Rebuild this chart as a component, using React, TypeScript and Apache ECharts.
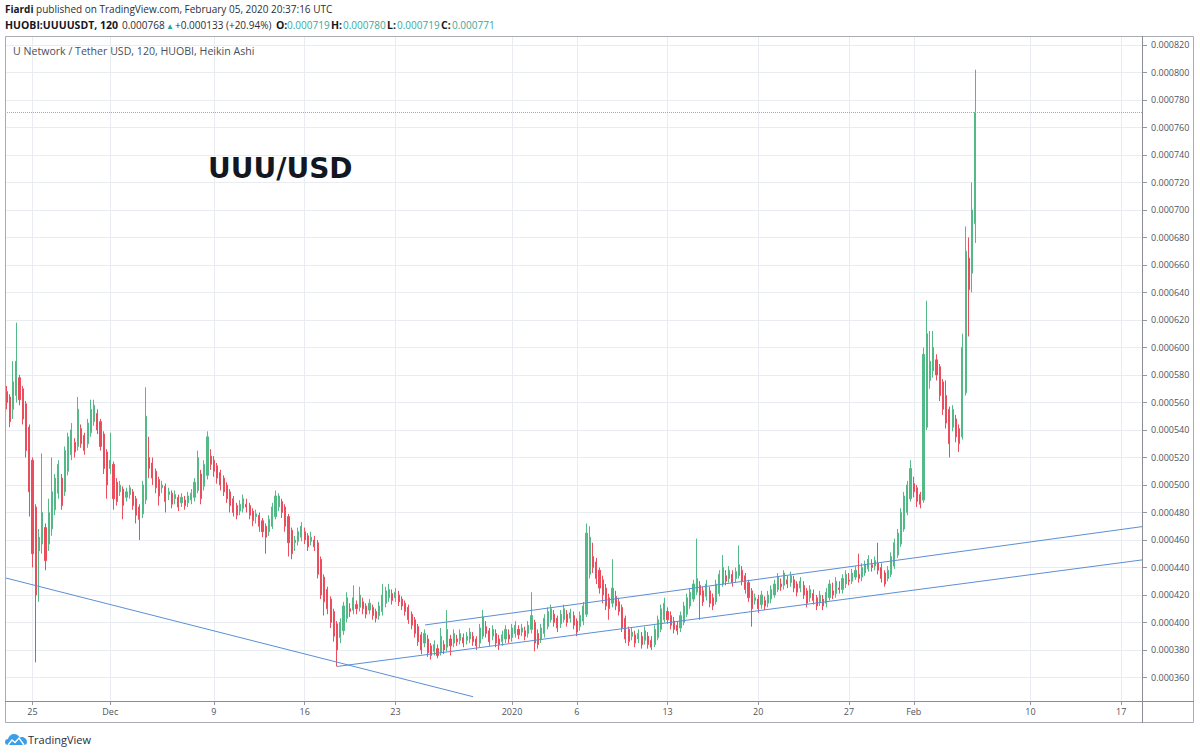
import React, { useEffect, useRef } from 'react';
import * as echarts from 'echarts';

// Prices are in millionths of USDT (1e-6). Candles are 6-hour Heikin Ashi bars.
// x coordinate: days since 25 Nov 2019 00:00 UTC. First candle: 23 Nov 00:00.
const firstCandleDay = -2;
const candleStepDays = 0.25;

// [open, close, low, high]
const novCandles = [
  [568, 560, 555, 572], [564, 546, 542, 566], [555, 575, 548, 590], [565, 590, 560, 618], [578, 562, 558, 580], [570, 548, 544, 572], [559, 525, 520, 561], [542, 495, 477, 544], [518, 450, 440, 520], [484, 420, 371, 486],
  [452, 462, 415, 468], [457, 480, 450, 523], [469, 445, 438, 472], [457, 480, 452, 490], [468, 495, 463, 520], [482, 505, 478, 508], [494, 515, 490, 518], [505, 485, 482, 508], [495, 525, 492, 528], [510, 535, 507, 538],
  [522, 540, 518, 545], [531, 524, 520, 534], [528, 555, 525, 564], [541, 530, 527, 544], [536, 525, 522, 538], [530, 545, 527, 548], [538, 555, 535, 562], [546, 558, 543, 562], [552, 540, 537, 555], [546, 528, 525, 548],
  [537, 512, 508, 539], [524, 500, 490, 526],
];

const decCandles = [
  [512, 518, 508, 538], [515, 490, 482, 517], [502, 488, 485, 505], [495, 500, 492, 503], [497, 485, 475, 499], [491, 495, 488, 498], [493, 498, 490, 500], [495, 485, 482, 497], [490, 478, 472, 492], [484, 475, 460, 486],
  [479, 500, 476, 503], [489, 550, 486, 571], [520, 512, 505, 535], [516, 505, 500, 520], [510, 498, 494, 512], [504, 492, 485, 506], [498, 500, 494, 503], [499, 488, 480, 501], [493, 495, 489, 498], [494, 486, 483, 496],
  [490, 493, 486, 496], [491, 484, 481, 493], [487, 491, 484, 494], [489, 485, 482, 492], [487, 492, 484, 495], [489, 494, 486, 497], [491, 502, 488, 505], [496, 520, 494, 525], [508, 490, 486, 511], [499, 515, 496, 518],
  [507, 535, 504, 539], [521, 515, 511, 526], [518, 510, 506, 521], [514, 505, 501, 516], [509, 500, 496, 511], [505, 495, 492, 507], [500, 490, 487, 502], [495, 485, 480, 497], [490, 480, 477, 492], [485, 478, 475, 487],
  [481, 486, 478, 489], [483, 490, 480, 493], [486, 484, 480, 490], [485, 478, 475, 487], [481, 474, 470, 483], [477, 479, 472, 482], [478, 470, 466, 480], [474, 466, 462, 476], [470, 462, 450, 472], [466, 475, 463, 478],
  [470, 484, 468, 487], [477, 492, 475, 496], [484, 492, 481, 494], [488, 480, 476, 490], [484, 470, 466, 486], [477, 458, 448, 479], [467, 450, 446, 469], [458, 460, 452, 463], [459, 466, 456, 469], [462, 470, 459, 473],
  [466, 460, 457, 469], [463, 455, 452, 465], [459, 462, 456, 466], [460, 455, 452, 463], [458, 435, 432, 460], [446, 420, 417, 448], [433, 415, 405, 435], [424, 410, 406, 426], [417, 400, 396, 419], [408, 390, 386, 410],
  [399, 380, 368, 401], [389, 400, 385, 403], [394, 412, 391, 415], [403, 418, 400, 422], [410, 408, 404, 414], [409, 418, 406, 427], [413, 410, 406, 416], [411, 420, 408, 426], [415, 410, 406, 418], [412, 406, 403, 414],
  [409, 414, 406, 417], [411, 405, 402, 413], [408, 403, 400, 410], [405, 412, 402, 415], [408, 420, 405, 428], [414, 423, 411, 426], [418, 424, 415, 428], [421, 416, 413, 424], [418, 422, 415, 425], [420, 415, 412, 423],
  [417, 412, 409, 419], [414, 408, 405, 416], [411, 402, 399, 413], [406, 398, 395, 408], [402, 392, 389, 404], [397, 386, 383, 399], [391, 380, 377, 393], [385, 392, 382, 395], [388, 378, 375, 391], [383, 376, 373, 385],
  [379, 384, 376, 387], [381, 376, 374, 384], [378, 390, 376, 396], [384, 380, 377, 387], [382, 395, 379, 409], [388, 383, 376, 391], [385, 392, 382, 395], [388, 386, 383, 391], [387, 392, 384, 395], [389, 385, 382, 392],
  [387, 390, 384, 393], [388, 393, 385, 396], [390, 386, 383, 393], [388, 383, 380, 390], [385, 396, 382, 399], [390, 404, 388, 409], [397, 392, 389, 401], [394, 386, 383, 396], [390, 395, 387, 398], [392, 385, 382, 395],
  [388, 384, 380, 391], [386, 391, 383, 394], [388, 395, 385, 398], [391, 388, 385, 395],
];

const janCandles = [
  [389, 396, 386, 399], [392, 398, 389, 401], [395, 391, 388, 398], [393, 396, 390, 399], [394, 390, 387, 397], [392, 398, 389, 401], [395, 405, 392, 422], [400, 385, 379, 402], [392, 384, 381, 395], [388, 396, 385, 399],
  [392, 403, 389, 406], [397, 408, 395, 411], [402, 410, 400, 413], [406, 400, 397, 409], [403, 396, 393, 405], [399, 406, 396, 409], [402, 410, 400, 413], [406, 400, 397, 409], [403, 407, 400, 410], [405, 398, 395, 408],
  [401, 393, 390, 403], [397, 405, 394, 408], [401, 412, 398, 415], [406, 465, 404, 472], [435, 462, 432, 470], [448, 440, 436, 458], [444, 432, 428, 447], [438, 425, 421, 440], [431, 420, 414, 434], [425, 412, 409, 428],
  [418, 410, 402, 421], [414, 425, 411, 446], [419, 412, 409, 423], [415, 408, 405, 418], [411, 396, 393, 413], [403, 388, 385, 405], [395, 386, 383, 397], [390, 393, 387, 396], [391, 385, 382, 394], [388, 392, 385, 395],
  [390, 384, 381, 393], [387, 394, 384, 397], [390, 384, 381, 393], [387, 382, 380, 390], [384, 395, 382, 398], [389, 402, 387, 405], [395, 410, 393, 413], [402, 414, 400, 418], [408, 402, 399, 411], [405, 398, 395, 408],
  [401, 395, 392, 404], [398, 394, 391, 401], [396, 405, 393, 408], [400, 412, 398, 415], [406, 418, 404, 421], [412, 422, 410, 425], [417, 428, 415, 431], [422, 432, 420, 461], [427, 420, 402, 430], [423, 415, 412, 426],
  [419, 428, 416, 431], [423, 414, 411, 426], [418, 412, 409, 421], [415, 428, 413, 431], [421, 435, 419, 438], [428, 440, 426, 449], [434, 430, 427, 438], [432, 438, 429, 441], [435, 429, 426, 438], [432, 437, 429, 440],
  [434, 442, 432, 456], [438, 430, 427, 441], [434, 424, 421, 436], [429, 418, 415, 431], [423, 410, 397, 425], [416, 418, 413, 421], [417, 410, 407, 420], [413, 420, 410, 423], [416, 412, 409, 419], [414, 420, 411, 423],
  [417, 424, 414, 427], [420, 428, 418, 431], [424, 433, 422, 436], [428, 426, 423, 432], [427, 436, 424, 438], [431, 428, 425, 434], [429, 434, 426, 437], [431, 425, 422, 434], [428, 422, 419, 430], [425, 430, 422, 433],
  [427, 420, 417, 430], [423, 414, 411, 425], [418, 424, 415, 427], [421, 416, 413, 424], [418, 412, 409, 420], [415, 420, 412, 423], [417, 412, 409, 420], [414, 422, 411, 425], [418, 428, 416, 431], [423, 420, 417, 429],
  [421, 430, 418, 433], [425, 424, 421, 430], [424, 432, 421, 435], [428, 435, 425, 438], [431, 430, 427, 436], [430, 436, 428, 439], [433, 438, 431, 441], [435, 432, 429, 450], [433, 440, 430, 443], [436, 442, 434, 445],
  [439, 446, 437, 449], [442, 440, 437, 446], [441, 445, 438, 448], [443, 438, 435, 458], [440, 432, 429, 443], [436, 428, 426, 438], [432, 438, 430, 441], [435, 448, 433, 451], [441, 458, 439, 461], [449, 465, 447, 468],
  [457, 480, 455, 483], [468, 492, 466, 495], [480, 500, 478, 503], [490, 512, 488, 518],
];

const febCandles = [
  [501, 495, 491, 506], [498, 488, 484, 500], [493, 486, 483, 495], [489, 595, 487, 600], [542, 610, 540, 634], [576, 590, 570, 612], [583, 600, 578, 612], [591, 580, 576, 595], [586, 565, 561, 588], [575, 555, 551, 577],
  [565, 545, 541, 576], [555, 530, 520, 557], [542, 555, 539, 558], [548, 535, 531, 551], [541, 530, 524, 544], [535, 600, 533, 610], [567, 670, 565, 688], [665, 642, 608, 680], [654, 700, 640, 720], [690, 771, 676, 802],
];

const lastClose = 771;

// Trend lines drawn on the chart: [day, price] endpoints
const fallingLine = [[-2.12, 432.5], [34, 346]];
const channelLow = [[23.5, 368], [85.61, 445.5]];
const channelHigh = [[30.29, 398.2], [85.61, 469.7]];

const yTickValues = [360, 380, 400, 420, 440, 460, 480, 500, 520, 540, 560, 580, 600, 620, 640, 660, 680, 700, 720, 740, 760, 780, 800, 820];
const xTickDays = [0, 6, 14, 21, 28, 37, 42, 49, 56, 63, 68, 77, 84];
const xTickLabels = ['25', 'Dec', '9', '16', '23', '2020', '6', '13', '20', '27', 'Feb', '10', '17'];

// Header legend pieces: [text, kind]
const headerPieces: [string, string, number][] = [
  ['HUOBI:UUUUSDT, 120', 'b', 5],
  ['0.000768', 'n', 122],
  ['▲', 'g', 166],
  ['+0.000133 (+20.94%)', 'n', 175],
  ['O:', 'b', 276],
  ['0.000719', 'v', 287],
  ['H:', 'b', 331],
  ['0.000780', 'v', 343],
  ['L:', 'b', 387],
  ['0.000719', 'v', 397],
  ['C:', 'b', 441],
  ['0.000771', 'v', 452],
];

const UP = '#53b987';
const DOWN = '#eb4d5c';
const LINE_BLUE = '#5b8fd4';
const FONT = 'Open Sans';

const cloudPath =
  'M3 12 C1.2 12 0 10.7 0 9 C0 7.3 1.3 6 3 6 C3.6 3 6.2 1 9 1 C11.6 1 13.6 2.4 14.6 4.4 C15.3 4.1 16 3.9 16.8 3.9 C19.7 3.9 22 6.2 22 9 C22 10.7 20.7 12 19 12 Z';

export default function App() {
  const ref = useRef<HTMLDivElement>(null);

  useEffect(() => {
    if (!ref.current) return;
    try {
      echarts.graphic.registerShape('tvcloud', echarts.graphic.extendPath(cloudPath, {}));
    } catch (e) {
      /* already registered */
    }
    const chart = echarts.init(ref.current, undefined, { renderer: 'svg' });

    const allCandles = [...novCandles, ...decCandles, ...janCandles, ...febCandles];
    const candleData = allCandles.map((c, i) => [firstCandleDay + i * candleStepDays, c[0], c[1], c[2], c[3]]);

    const axisTextColor = '#50535e';
    const gridColor = '#e9edf1';
    const tickColor = '#9598a1';

    const pieceStyle: Record<string, any> = {
      b: { fontSize: 10.5, fontWeight: 'bold', fill: '#131722' },
      n: { fontSize: 10, fontWeight: 'normal', fill: '#2a2e39' },
      v: { fontSize: 10, fontWeight: 'normal', fill: '#3aa99c' },
      g: { fontSize: 8, fontWeight: 'normal', fill: '#26a69a' },
    };

    const headerGraphics = headerPieces.map(([text, kind, x]) => ({
      type: 'text',
      z: 20,
      x,
      y: 25,
      silent: true,
      style: {
        text,
        fontFamily: FONT,
        verticalAlign: 'middle',
        ...pieceStyle[kind],
      },
    }));

    const option: any = {
      animation: false,
      backgroundColor: '#ffffff',
      grid: { left: 5, right: 58, top: 36, bottom: 54 },
      xAxis: {
        type: 'value',
        min: -2.122,
        max: 85.61,
        axisLine: { show: false, onZero: false },
        axisTick: { show: true, customValues: xTickDays, length: 4, lineStyle: { color: tickColor } },
        axisLabel: {
          customValues: xTickDays,
          formatter: (v: number) => {
            const i = xTickDays.indexOf(v);
            return i >= 0 ? xTickLabels[i] : '';
          },
          color: axisTextColor,
          fontSize: 9,
          fontFamily: FONT,
          margin: 6,
        },
        splitLine: { show: true, lineStyle: { color: gridColor, width: 1 } },
      },
      yAxis: {
        type: 'value',
        position: 'right',
        min: 342.9,
        max: 826.5,
        axisLine: { show: false, onZero: false },
        axisTick: { show: true, customValues: yTickValues, length: 5, lineStyle: { color: tickColor } },
        axisLabel: {
          customValues: yTickValues,
          formatter: (v: number) => (v / 1e6).toFixed(6),
          color: axisTextColor,
          fontSize: 9,
          fontFamily: FONT,
          margin: 9,
        },
        splitLine: { show: true, lineStyle: { color: gridColor, width: 1 } },
      },
      series: [
        {
          type: 'candlestick',
          data: candleData,
          encode: { x: 0, y: [1, 2, 3, 4] },
          barWidth: 1.6,
          itemStyle: { color: UP, color0: DOWN, borderColor: UP, borderColor0: DOWN, borderWidth: 1 },
          markLine: {
            silent: true,
            symbol: ['none', 'none'],
            label: { show: false },
            lineStyle: { type: 'dotted', color: '#7cbfb3', width: 1 },
            data: [{ yAxis: lastClose }],
          },
          z: 3,
        },
        { type: 'line', data: fallingLine, symbol: 'none', silent: true, lineStyle: { color: LINE_BLUE, width: 1 }, z: 4 },
        { type: 'line', data: channelLow, symbol: 'none', silent: true, lineStyle: { color: LINE_BLUE, width: 1 }, z: 4 },
        { type: 'line', data: channelHigh, symbol: 'none', silent: true, lineStyle: { color: LINE_BLUE, width: 1 }, z: 4 },
      ],
      graphic: [
        {
          type: 'rect',
          z: 10,
          silent: true,
          shape: { x: 5.5, y: 36.5, width: 1188, height: 686 },
          style: { fill: 'none', stroke: '#a9acb4', lineWidth: 1 },
        },
        {
          type: 'line',
          z: 10,
          silent: true,
          shape: { x1: 1142.5, y1: 36, x2: 1142.5, y2: 723 },
          style: { stroke: '#8a8d96', lineWidth: 1 },
        },
        {
          type: 'line',
          z: 10,
          silent: true,
          shape: { x1: 5, y1: 701.5, x2: 1194, y2: 701.5 },
          style: { stroke: '#8a8d96', lineWidth: 1 },
        },
        {
          type: 'text',
          z: 20,
          x: 5,
          y: 9,
          silent: true,
          style: {
            text: '{b|Fiardi} published on TradingView.com, February 05, 2020 20:37:16 UTC',
            fontSize: 10,
            fontFamily: FONT,
            fill: '#2a2e39',
            verticalAlign: 'middle',
            rich: {
              b: { fontSize: 10, fontFamily: FONT, fontWeight: 'bold', fill: '#131722' },
            },
          },
        },
        ...headerGraphics,
        {
          type: 'text',
          z: 20,
          x: 13,
          y: 51,
          silent: true,
          style: {
            text: 'U Network / Tether USD, 120, HUOBI, Heikin Ashi',
            fontSize: 10.6,
            fontFamily: FONT,
            fill: '#4a4e59',
            verticalAlign: 'middle',
          },
        },
        {
          type: 'text',
          z: 20,
          x: 208,
          y: 168,
          silent: true,
          style: {
            text: 'UUU/USD',
            fontSize: 28,
            fontWeight: 'bold',
            fontFamily: 'DejaVu Sans',
            fill: '#131722',
            verticalAlign: 'middle',
          },
        },
        {
          type: 'tvcloud',
          z: 20,
          x: 5,
          y: 733,
          silent: true,
          style: { fill: '#3d9ee8' },
        },
        {
          type: 'polyline',
          z: 21,
          silent: true,
          shape: { points: [[8, 745], [12, 740], [15, 742.5], [19, 738], [24, 745]] },
          style: { stroke: '#ffffff', lineWidth: 1.4, fill: 'none' },
        },
        {
          type: 'text',
          z: 20,
          x: 28,
          y: 739,
          silent: true,
          style: {
            text: 'TradingView',
            fontSize: 11,
            fontFamily: FONT,
            fill: '#2a2e39',
            verticalAlign: 'middle',
          },
        },
      ],
    };

    chart.setOption(option);
    return () => chart.dispose();
  }, []);

  return (
    <div
      ref={ref}
      style={{ position: 'absolute', left: 0, top: 0, width: 1200, height: 755, background: '#fff' }}
    />
  );
}
